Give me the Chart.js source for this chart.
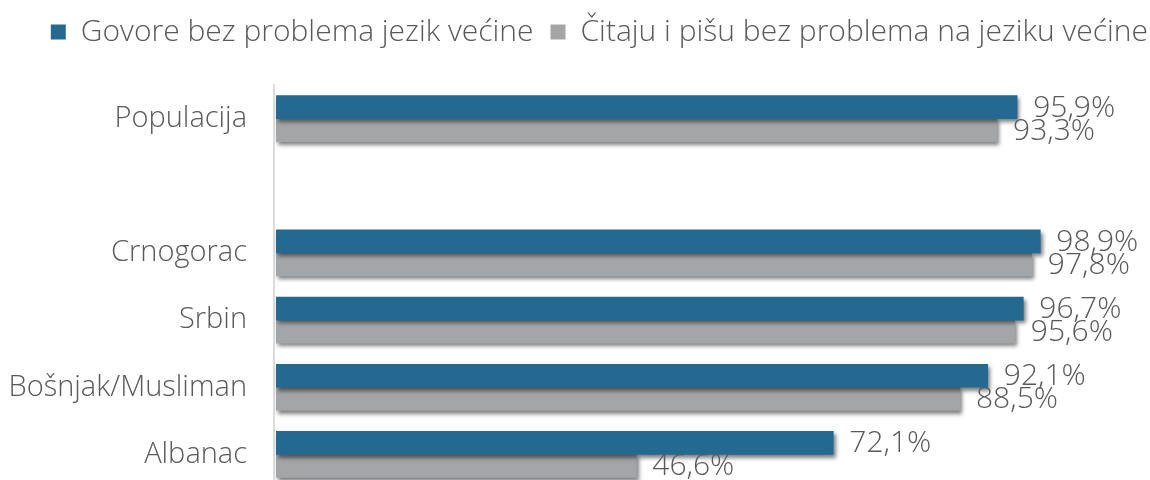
<!DOCTYPE html>
<html>
<head>
<meta charset="utf-8">
<script src="https://cdn.jsdelivr.net/npm/chart.js@4.4.1/dist/chart.umd.min.js"></script>
<style>
  html, body { margin: 0; padding: 0; background: #fff; overflow: hidden; }
  canvas { display: block; }
</style>
</head>
<body>
<canvas id="chart" width="1150" height="490"></canvas>
<script>
var categories = ["Populacija", "", "Crnogorac", "Srbin", "Bošnjak/Musliman", "Albanac"];
var govore = [95.9, null, 98.9, 96.7, 92.1, 72.1];
var citaju = [93.3, null, 97.8, 95.6, 88.5, 46.6];
var seriesNames = ["Govore bez problema jezik većine", "Čitaju i pišu bez problema na jeziku većine"];

var textColor = "#595959";
var fontFamily = "'Open Sans', sans-serif";

// shadow under the bars
var shadowPlugin = {
    id: 'barShadow',
    beforeDatasetsDraw: function (chart) {
        var ctx = chart.ctx;
        ctx.save();
        ctx.shadowColor = 'rgba(0,0,0,0.5)';
        ctx.shadowBlur = 4;
        ctx.shadowOffsetX = 2;
        ctx.shadowOffsetY = 3;
    },
    afterDatasetsDraw: function (chart) {
        chart.ctx.restore();
    }
};

// value labels at bar ends
var valueLabels = {
    id: 'valueLabels',
    afterDraw: function (chart) {
        var ctx = chart.ctx;
        ctx.save();
        ctx.font = "300 30px " + fontFamily;
        ctx.fillStyle = textColor;
        ctx.textAlign = 'left';
        ctx.textBaseline = 'middle';
        chart.data.datasets.forEach(function (ds, i) {
            var meta = chart.getDatasetMeta(i);
            meta.data.forEach(function (bar, j) {
                var v = ds.data[j];
                if (v === null) return;
                ctx.fillText(v.toFixed(1).replace('.', ',') + '%', bar.x + 16, bar.y + 1);
            });
        });
        ctx.restore();
    }
};

// fixed legend height so the plot starts where the original does,
// and push the legend to the right edge
var legendHeight = {
    id: 'legendHeight',
    beforeInit: function (chart) {
        var fit = chart.legend.fit;
        chart.legend.fit = function () {
            fit.bind(chart.legend)();
            this.height = 85;
        };
    },
    afterLayout: function (chart) {
        chart.legend.left += 15;
        chart.legend.right += 15;
    }
};

var ctx = document.getElementById('chart');

chart = new Chart(ctx, {
    type: 'bar',
    data: {
        labels: categories,
        datasets: [
            {
                label: seriesNames[0],
                data: govore,
                backgroundColor: '#246990',
                barThickness: 23
            },
            {
                label: seriesNames[1],
                data: citaju,
                backgroundColor: '#a3a6a9',
                barThickness: 23
            }
        ]
    },
    options: {
        indexAxis: 'y',
        responsive: false,
        animation: false,
        layout: { padding: { left: 6, right: 0, top: 0, bottom: 2 } },
        plugins: {
            legend: {
                position: 'top',
                align: 'end',
                labels: {
                    boxWidth: 15,
                    boxHeight: 15,
                    padding: 17,
                    color: textColor,
                    font: { family: fontFamily, size: 30, weight: 300 }
                }
            },
            tooltip: { enabled: false }
        },
        scales: {
            x: {
                display: false,
                min: -0.3,
                max: 113.1
            },
            y: {
                grid: { display: false, drawTicks: false },
                border: { color: '#dcdcdc', width: 2 },
                ticks: {
                    padding: 27,
                    color: textColor,
                    font: { family: fontFamily, size: 29, weight: 300 }
                },
                afterFit: function (scale) {
                    scale.width = 268;
                    scale.paddingTop = 0;
                    scale.paddingBottom = 0;
                }
            }
        }
    },
    plugins: [shadowPlugin, valueLabels, legendHeight]
});
</script>
</body>
</html>
